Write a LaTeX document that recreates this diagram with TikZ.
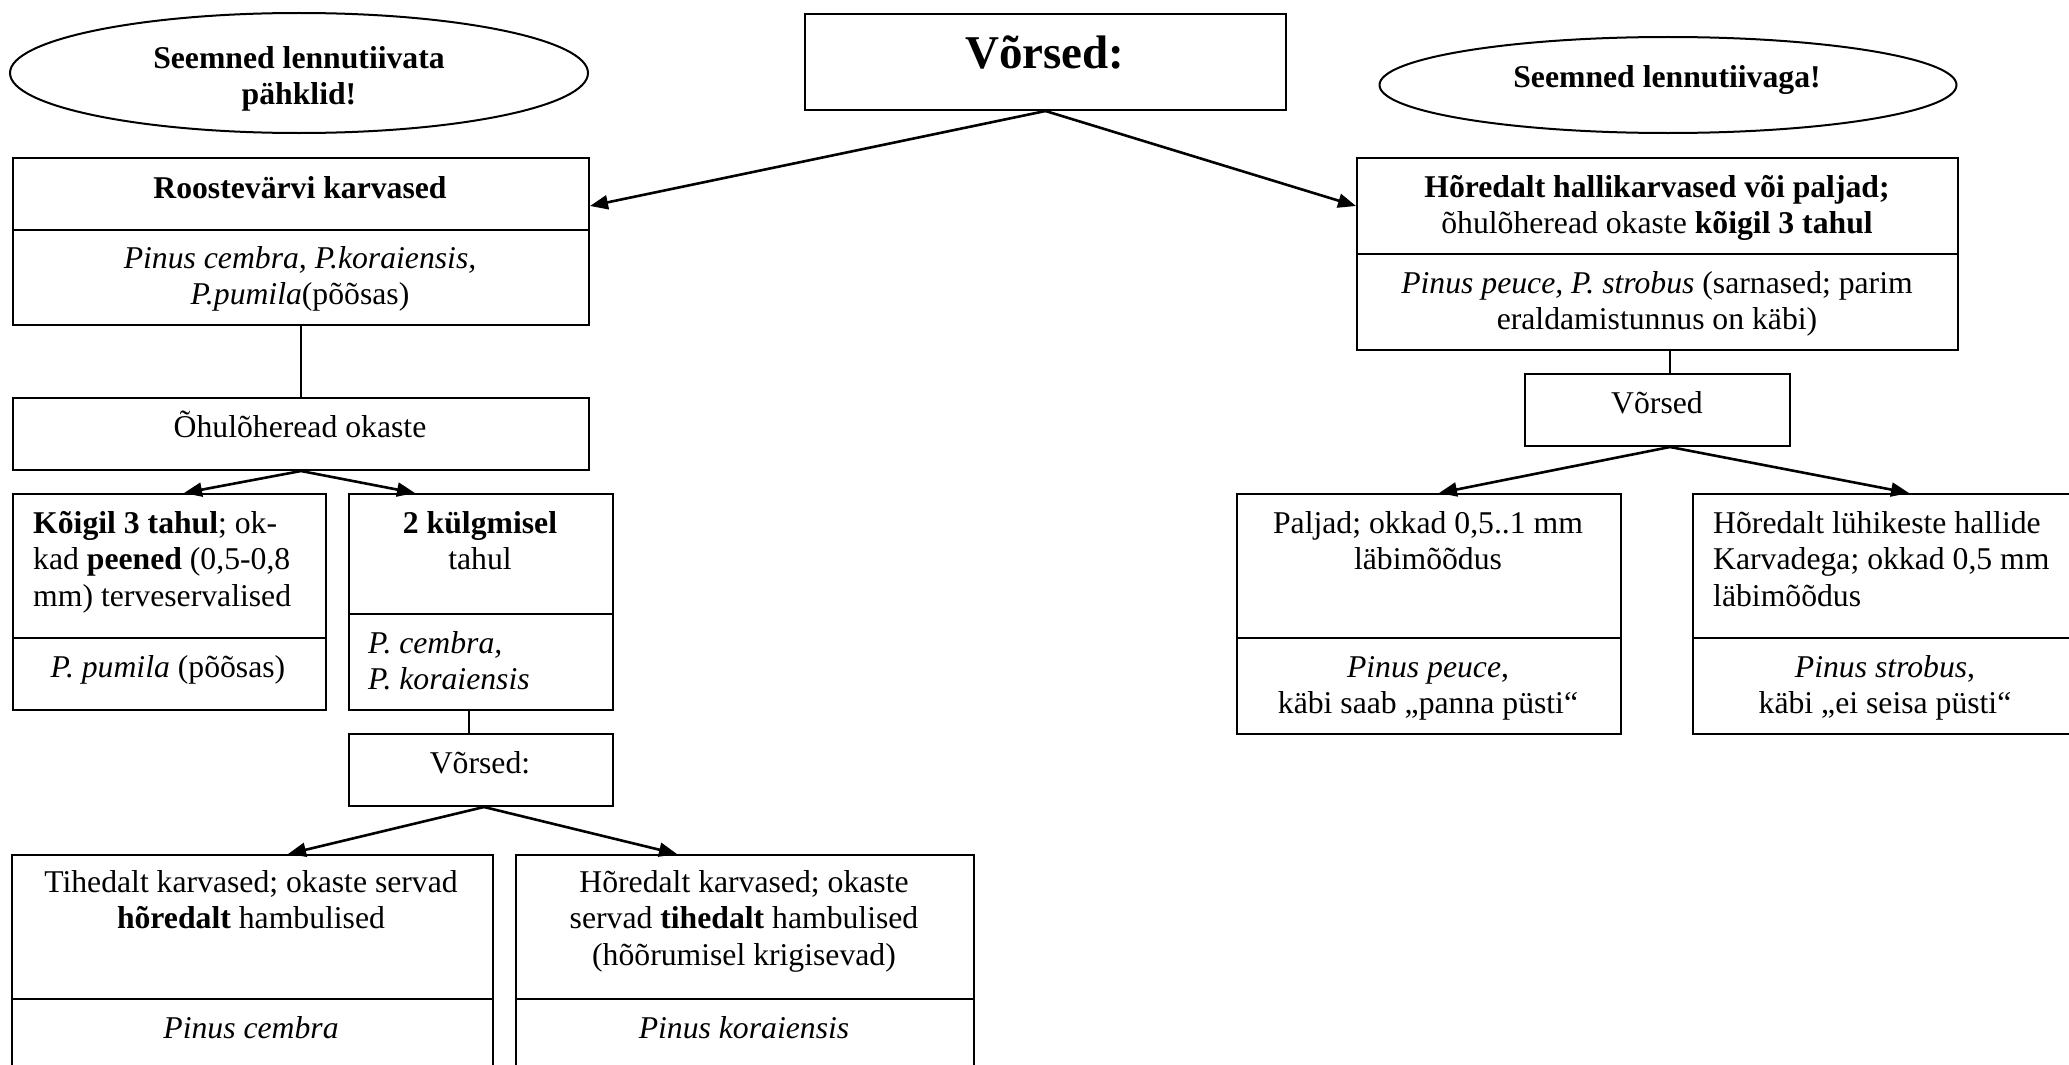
\documentclass[tikz,border=0pt]{standalone}
\usepackage{fontspec}
\setmainfont{Liberation Serif}
\usetikzlibrary{arrows.meta,shapes.geometric}
\newcommand\tl[2]{\begin{tabular}[t]{@{}#1@{}}#2\end{tabular}}
\begin{document}
\begin{tikzpicture}[x=1pt,y=-1pt,
 box/.style={draw, line width=2pt, inner sep=0pt, anchor=north west},
 oval/.style={draw, ellipse, line width=2pt, inner sep=0pt},
 txt/.style={anchor=base, inner sep=0pt, font=\fontsize{31.7pt}{36.8pt}\selectfont},
 txtl/.style={txt, anchor=base west},
 arr/.style={line width=2.6pt, -{Triangle[length=18pt,width=14pt]}},
 lnk/.style={line width=1.6pt},
]
\useasboundingbox (0,0) rectangle (2069,1065);
\clip (0,0) rectangle (2069,1065);
\fill[white] (0,0) rectangle (2069,1065);

% ellipses
\node[oval, minimum width=578pt, minimum height=120pt] (ovL) at (299,73) {};
\node[txt] (ovLt) at (299,68) {\bfseries\tl{c}{Seemned lennutiivata\\pähklid!}};
\node[oval, minimum width=577pt, minimum height=96pt] (ovR) at (1668,85) {};
\node[txt] (ovRt) at (1667,88) {\bfseries Seemned lennutiivaga!};

% title
\node[box, minimum width=481pt, minimum height=96pt] (title) at (804,13) {};
\node[txt, font=\fontsize{47pt}{54pt}\selectfont\bfseries] (titlet) at (1045,69) {Võrsed:};

% left branch
\node[box, minimum width=576pt, minimum height=72pt] (roostA) at (12,157) {};
\node[box, minimum width=576pt, minimum height=95pt] (roostB) at (12,229) {};
\node[txt] (roostAt) at (300,198) {\bfseries Roostevärvi karvased};
\node[txt] (roostBt) at (300,268) {\tl{c}{\itshape Pinus cembra, P.koraiensis,\\{\itshape P.pumila}(põõsas)}};

\node[box, minimum width=576pt, minimum height=72pt] (ohul) at (12,397) {};
\node[txt] (ohult) at (300,437) {Õhulõheread okaste};

\node[box, minimum width=313pt, minimum height=144pt] (k3A) at (12,493) {};
\node[box, minimum width=313pt, minimum height=72pt] (k3B) at (12,637) {};
\node[txtl] (k3At) at (33,533) {\tl{l}{\textbf{Kõigil 3 tahul}; ok-\\kad \textbf{peened} (0,5-0,8\\mm) terveservalised}};
\node[txt] (k3Bt) at (168,677) {\textit{P. pumila} (põõsas)};

\node[box, minimum width=264pt, minimum height=120pt] (k2A) at (348,493) {};
\node[box, minimum width=264pt, minimum height=96pt] (k2B) at (348,613) {};
\node[txt] (k2At) at (480,533) {\tl{c}{\textbf{2 külgmisel}\\tahul}};
\node[txtl] (k2Bt) at (368,653) {\tl{l}{\textit{P. cembra,}\\\textit{P. koraiensis}}};

\node[box, minimum width=264pt, minimum height=72pt] (v2) at (348,733) {};
\node[txt] (v2t) at (480,773) {Võrsed:};

\node[box, minimum width=481pt, minimum height=144pt] (tA) at (11,854) {};
\node[box, minimum width=481pt, minimum height=110pt] (tB) at (11,998) {};
\node[txt] (tAt) at (251,892) {\tl{c}{Tihedalt karvased; okaste servad\\\textbf{hõredalt} hambulised}};
\node[txt] (tBt) at (251,1038) {\textit{Pinus cembra}};

\node[box, minimum width=458pt, minimum height=144pt] (hA) at (515,854) {};
\node[box, minimum width=458pt, minimum height=110pt] (hB) at (515,998) {};
\node[txt] (hAt) at (744,892) {\tl{c}{Hõredalt karvased; okaste\\servad \textbf{tihedalt} hambulised\\(hõõrumisel krigisevad)}};
\node[txt] (hBt) at (744,1038) {\textit{Pinus koraiensis}};

% right branch
\node[box, minimum width=601pt, minimum height=96pt] (hoarA) at (1356,157) {};
\node[box, minimum width=601pt, minimum height=96pt] (hoarB) at (1356,253) {};
\node[txt] (hoarAt) at (1657,197) {\tl{c}{\textbf{Hõredalt hallikarvased või paljad;}\\õhulõheread okaste \textbf{kõigil 3 tahul}}};
\node[txt] (hoarBt) at (1657,293) {\tl{c}{\textit{Pinus peuce, P. strobus} (sarnased; parim\\eraldamistunnus on käbi)}};

\node[box, minimum width=265pt, minimum height=72pt] (v3) at (1524,373) {};
\node[txt] (v3t) at (1657,413) {Võrsed};

\node[box, minimum width=384pt, minimum height=144pt] (pA) at (1236,493) {};
\node[box, minimum width=384pt, minimum height=96pt] (pB) at (1236,637) {};
\node[txt] (pAt) at (1428,533) {\tl{c}{Paljad; okkad 0,5..1 mm\\läbimõõdus}};
\node[txt] (pBt) at (1428,677) {\tl{c}{\textit{Pinus peuce},\\käbi saab „panna püsti“}};

\node[box, minimum width=386pt, minimum height=144pt] (sA) at (1692,493) {};
\node[box, minimum width=386pt, minimum height=96pt] (sB) at (1692,637) {};
\node[txtl] (sAt) at (1713,533) {\tl{l}{Hõredalt lühikeste hallide\\Karvadega; okkad 0,5 mm\\läbimõõdus}};
\node[txt] (sBt) at (1885,677) {\tl{c}{\textit{Pinus strobus},\\käbi „ei seisa püsti“}};

% connectors
\draw[arr] (title.south) -- ([yshift=-12pt]roostA.east);
\draw[arr] (title.south) -- (hoarA.west);
\draw[lnk] (roostB.south) -- (ohul.north);
\draw[arr] (ohul.south) -- ([xshift=14.5pt]k3A.north);
\draw[arr] (ohul.south) -- ([xshift=-66pt]k2A.north);
\draw[lnk] ([xshift=-12pt]k2B.south) -- ([xshift=-12pt]v2.north);
\draw[arr] ([xshift=3pt]v2.south) -- ([xshift=35.5pt]tA.north);
\draw[arr] ([xshift=3pt]v2.south) -- ([xshift=-68pt]hA.north);
\draw[lnk] ([xshift=12.5pt]hoarB.south) -- ([xshift=12.5pt]v3.north);
\draw[arr] ([xshift=12.5pt]v3.south) -- ([xshift=10pt]pA.north);
\draw[arr] ([xshift=12.5pt]v3.south) -- ([xshift=23pt]sA.north);
\end{tikzpicture}
\end{document}
